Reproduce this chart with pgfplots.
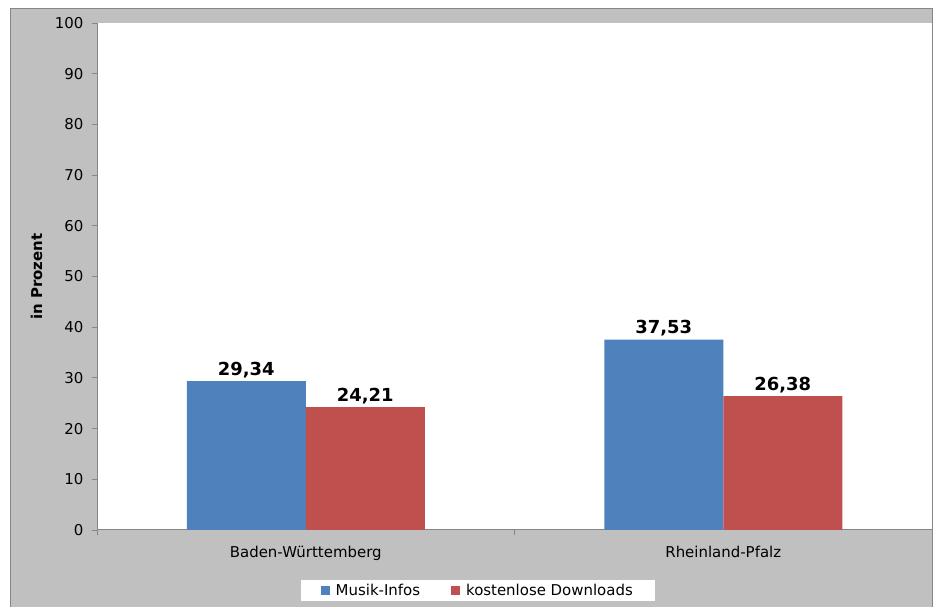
\documentclass[border=0pt]{standalone}
\usepackage{pgfplots}
\pgfplotsset{compat=1.18}
\usepackage{fontspec}
\setmainfont{DejaVu Sans}
\definecolor{bblue}{HTML}{4F81BD}
\definecolor{bred}{HTML}{C0504D}
\definecolor{bggray}{HTML}{C0C0C0}
\definecolor{axgray}{HTML}{868686}
\begin{document}
\begin{tikzpicture}[x=1bp,y=1bp,font=\fontsize{15}{18}\selectfont]
\useasboundingbox (0,0) rectangle (933,607);
\fill[white] (0,0) rectangle (933,607);
\filldraw[fill=bggray, draw=axgray, line width=1bp] (10.5,-5) rectangle (932,598);
\begin{axis}[
  at={(97bp,77bp)}, anchor=south west, scale only axis,
  width=835bp, height=507bp,
  xmin=0, xmax=2, ymin=0, ymax=100,
  ytick={0,10,...,100},
  xtick={0,1,2}, xticklabels={},
  extra x ticks={0.5,1.5},
  extra x tick labels={Baden-Württemberg,Rheinland-Pfalz},
  extra x tick style={major tick length=0pt},
  tick align=outside, major tick length=5bp,
  axis x line*=bottom, axis y line*=left,
  axis line style={draw=axgray, line width=1bp, -},
  tick style={draw=axgray, line width=0.8bp},
  axis background/.style={fill=white},
  /pgf/number format/assume math mode=true,
  xticklabel style={yshift=-13bp},
  yticklabel style={xshift=-5bp},
  ylabel={in Prozent},
  ylabel style={font=\fontsize{15}{18}\selectfont\bfseries, at={(axis description cs:-0.0725,0.5)}, anchor=center},
  ybar=0pt, bar width=119bp,
  nodes near coords={\pgfmathprintnumber[use comma,fixed,fixed zerofill,precision=2,assume math mode=true]{\pgfplotspointmeta}},
  nodes near coords style={font=\fontsize{18}{21}\selectfont\bfseries, black},
  legend style={at={(axis description cs:0.456,-0.119)}, anchor=center, draw=none, fill=white,
    inner xsep=20bp, inner ysep=2bp,
    /tikz/every even column/.append style={column sep=29bp}},
  legend columns=2,
  legend image code/.code={\fill[#1,draw=none] (0bp,-4.5bp) rectangle (9bp,4.5bp); \path (13bp,0bp);},
]
\addplot[fill=bblue, draw=none] coordinates {(0.5,29.34) (1.5,37.53)};
\addplot[fill=bred, draw=none] coordinates {(0.5,24.21) (1.5,26.38)};
\legend{Musik-Infos, kostenlose Downloads}
\end{axis}
\end{tikzpicture}
\end{document}
